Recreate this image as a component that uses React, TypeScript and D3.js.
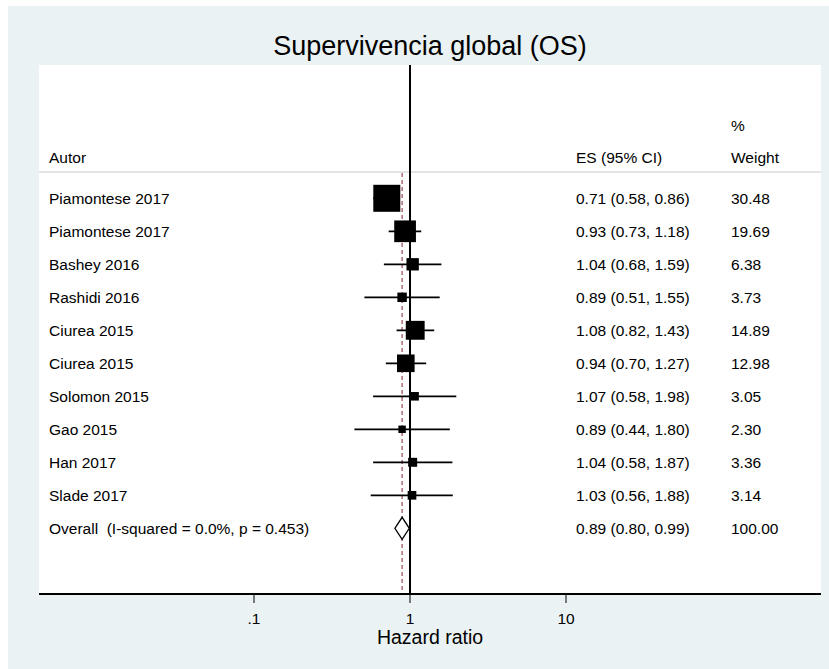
import React from 'react';
import * as d3 from 'd3';

// study data
const studies = [
  'Piamontese 2017',
  'Piamontese 2017',
  'Bashey 2016',
  'Rashidi 2016',
  'Ciurea 2015',
  'Ciurea 2015',
  'Solomon 2015',
  'Gao 2015',
  'Han 2017',
  'Slade 2017',
];
const es = [0.71, 0.93, 1.04, 0.89, 1.08, 0.94, 1.07, 0.89, 1.04, 1.03];
const lower = [0.58, 0.73, 0.68, 0.51, 0.82, 0.7, 0.58, 0.44, 0.58, 0.56];
const upper = [0.86, 1.18, 1.59, 1.55, 1.43, 1.27, 1.98, 1.8, 1.87, 1.88];
const weights = [30.48, 19.69, 6.38, 3.73, 14.89, 12.98, 3.05, 2.3, 3.36, 3.14];

const overallLabel = 'Overall  (I-squared = 0.0%, p = 0.453)';
const overall = { es: 0.89, lo: 0.8, hi: 0.99, weight: 100 };

const tickValues = [0.1, 1, 10];
const tickLabels = ['.1', '1', '10'];

const fmt = d3.format('.2f');

const App = () => {
  const W = 829;
  const H = 669;
  const plot = { left: 39, right: 821, top: 65, bottom: 594 };
  const font = 'Arial, "Liberation Sans", sans-serif';
  const cx = (plot.left + plot.right) / 2;

  // log scale for hazard ratio
  const x = d3.scaleLog().domain([0.1, 10]).range([254, 566]);
  // row positions
  const y = d3.scaleLinear().domain([0, 10]).range([198.3, 528.3]);
  // box side proportional to sqrt(weight)
  const side = d3.scaleSqrt().domain([0, 30.48]).range([0, 27]);

  const fs = 15.5;
  const colES = 576;
  const colW = 731;

  const dh = 11; // diamond half-height
  const oy = y(10);
  const diamond = d3.line()([
    [x(overall.lo), oy],
    [x(overall.es), oy - dh],
    [x(overall.hi), oy],
    [x(overall.es), oy + dh],
  ]) + 'Z';

  return (
    <svg width={W} height={H} style={{ position: 'absolute', left: 0, top: 0 }} fontFamily={font}>
      <rect x={0} y={0} width={W} height={H} fill='#ffffff' />
      <rect x={8} y={6} width={W - 8} height={H - 6} fill='#eaf2f3' />
      <rect x={plot.left} y={plot.top} width={plot.right - plot.left} height={plot.bottom - plot.top} fill='#ffffff' />

      {/* title */}
      <text x={cx} y={46} textAnchor='middle' dominantBaseline='central' fontSize={27} fill='#000'>
        Supervivencia global (OS)
      </text>

      {/* header */}
      <line x1={plot.left} x2={plot.right} y1={172} y2={172} stroke='#c8c8c8' strokeWidth={1} />
      <text x={49} y={157} fontSize={fs} dominantBaseline='central'>Autor</text>
      <text x={colES} y={157} fontSize={fs} dominantBaseline='central'>ES (95% CI)</text>
      <text x={colW} y={125} fontSize={fs} dominantBaseline='central'>%</text>
      <text x={colW} y={157} fontSize={fs} dominantBaseline='central'>Weight</text>

      {/* reference lines */}
      <line x1={x(1)} x2={x(1)} y1={plot.top} y2={plot.bottom} stroke='#000' strokeWidth={2} />
      <line
        x1={x(overall.es)}
        x2={x(overall.es)}
        y1={173}
        y2={plot.bottom}
        stroke='#a0525f'
        strokeWidth={1.3}
        strokeDasharray='4,3'
      />

      {/* studies */}
      {studies.map((s, i) => {
        const cy = y(i);
        const a = side(weights[i]);
        return (
          <g key={i}>
            <line x1={x(lower[i])} x2={x(upper[i])} y1={cy} y2={cy} stroke='#000' strokeWidth={1.8} />
            <rect x={x(es[i]) - a / 2} y={cy - a / 2} width={a} height={a} fill='#000' />
            <text x={49} y={cy} fontSize={fs} dominantBaseline='central'>{s}</text>
            <text x={colES} y={cy} fontSize={fs} dominantBaseline='central'>
              {`${fmt(es[i])} (${fmt(lower[i])}, ${fmt(upper[i])})`}
            </text>
            <text x={colW} y={cy} fontSize={fs} dominantBaseline='central'>{fmt(weights[i])}</text>
          </g>
        );
      })}

      {/* overall */}
      <path d={diamond} fill='#fff' stroke='#000' strokeWidth={1.3} />
      <text x={49} y={oy} fontSize={fs} dominantBaseline='central' style={{ whiteSpace: 'pre' }}>
        {overallLabel}
      </text>
      <text x={colES} y={oy} fontSize={fs} dominantBaseline='central'>
        {`${fmt(overall.es)} (${fmt(overall.lo)}, ${fmt(overall.hi)})`}
      </text>
      <text x={colW} y={oy} fontSize={fs} dominantBaseline='central'>{fmt(overall.weight)}</text>

      {/* x axis */}
      <line x1={plot.left} x2={plot.right} y1={plot.bottom} y2={plot.bottom} stroke='#000' strokeWidth={2} />
      {tickValues.map((t, i) => (
        <g key={t}>
          <line x1={x(t)} x2={x(t)} y1={plot.bottom} y2={plot.bottom + 9} stroke='#000' strokeWidth={1} />
          <text x={x(t)} y={618} textAnchor='middle' dominantBaseline='central' fontSize={fs}>
            {tickLabels[i]}
          </text>
        </g>
      ))}
      <text x={cx} y={637} textAnchor='middle' dominantBaseline='central' fontSize={19.5}>
        Hazard ratio
      </text>
    </svg>
  );
};

export default App;
